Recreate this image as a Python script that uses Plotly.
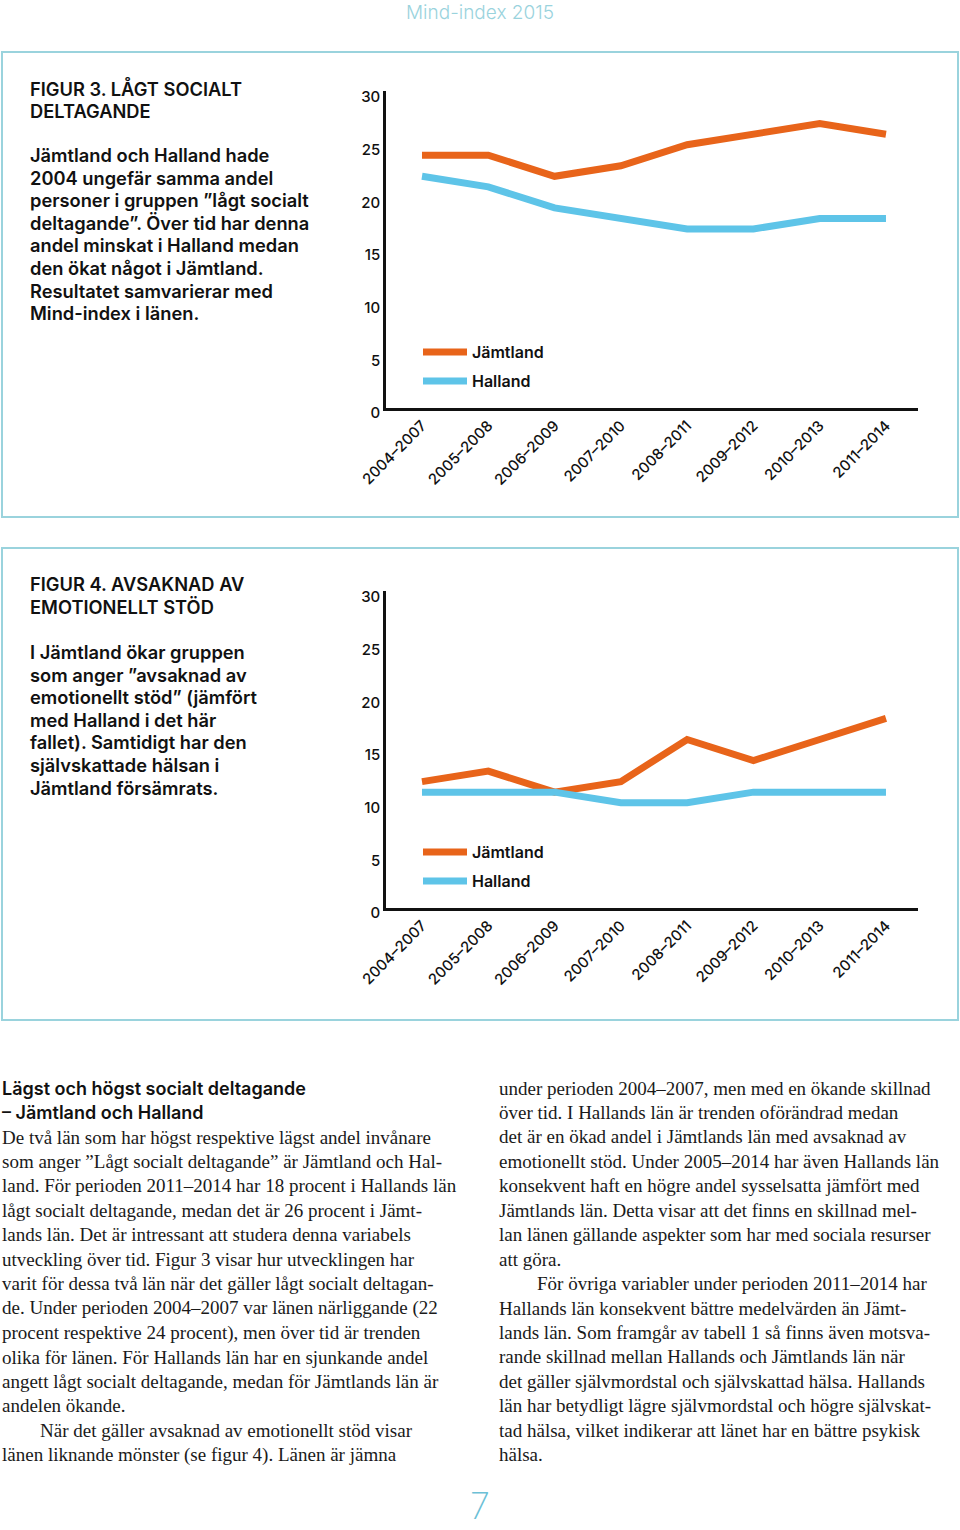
import plotly.graph_objects as go

W, H = 960, 1530

# ---------------- data ----------------
periods = ["2004–2007", "2005–2008", "2006–2009", "2007–2010",
           "2008–2011", "2009–2012", "2010–2013", "2011–2014"]
fig3_jamtland = [24, 24, 22, 23, 25, 26, 27, 26]
fig3_halland = [22, 21, 19, 18, 17, 17, 18, 18]
fig4_jamtland = [12, 13, 11, 12, 16, 14, 16, 18]
fig4_halland = [11, 11, 11, 10, 10, 11, 11, 11]
y_ticks = [0, 5, 10, 15, 20, 25, 30]

ORANGE = "#E8641A"
BLUE = "#5EC4E8"
TEAL = "#9AD3DD"
SANS = "Inter"
SERIF = "Liberation Serif"


def px(x):
    return x / W


def py(y):
    return 1 - y / H


fig = go.Figure()

# ---------------- chart traces ----------------
for i, (jam, hal) in enumerate([(fig3_jamtland, fig3_halland),
                                 (fig4_jamtland, fig4_halland)]):
    xa = "x" if i == 0 else "x2"
    ya = "y" if i == 0 else "y2"
    lj = "legend" if i == 0 else "legend3"
    lh = "legend2" if i == 0 else "legend4"
    fig.add_trace(go.Scatter(x=periods, y=jam, mode="lines", name="Jämtland",
                             line=dict(color=ORANGE, width=7), xaxis=xa, yaxis=ya,
                             legend=lj, hoverinfo="skip"))
    fig.add_trace(go.Scatter(x=periods, y=hal, mode="lines", name="Halland",
                             line=dict(color=BLUE, width=7), xaxis=xa, yaxis=ya,
                             legend=lh, hoverinfo="skip"))

axis_font = dict(family=SANS, size=15, color="#111111", weight=500)
xcommon = dict(domain=[px(386), px(918)], range=[-0.543, 7.483],
               showgrid=False, zeroline=False, showline=True,
               linecolor="#111111", linewidth=3, ticks="",
               tickangle=-45, tickfont=axis_font, fixedrange=True)
ycommon = dict(range=[0, 30.1], tickvals=y_ticks, showgrid=False,
               zeroline=False, showline=True, linecolor="#111111",
               linewidth=2.5, ticks="", tickfont=axis_font,
               ticklabelstandoff=0, ticklabelshift=5, fixedrange=True)

fig.update_layout(
    xaxis=dict(xcommon, anchor="y"),
    yaxis=dict(ycommon, domain=[py(408), py(91)], anchor="x"),
    xaxis2=dict(xcommon, anchor="y2"),
    yaxis2=dict(ycommon, domain=[py(908), py(591)], anchor="x2"),
)

leg_common = dict(bgcolor="rgba(0,0,0,0)", borderwidth=0, xanchor="left",
                  yanchor="middle", itemwidth=44, itemclick=False,
                  itemdoubleclick=False,
                  font=dict(family=SANS, size=16, color="#111111", weight=600))
fig.update_layout(
    legend=dict(leg_common, x=px(418), y=py(352)),
    legend2=dict(leg_common, x=px(418), y=py(381)),
    legend3=dict(leg_common, x=px(418), y=py(852)),
    legend4=dict(leg_common, x=px(418), y=py(881)),
)

# ---------------- frames ----------------
shapes = []
for (y0, y1) in [(52, 517), (548, 1020)]:
    shapes.append(dict(type="rect", xref="paper", yref="paper",
                       x0=px(2), x1=px(958), y0=py(y0), y1=py(y1),
                       line=dict(color=TEAL, width=2), fillcolor="rgba(0,0,0,0)",
                       layer="below"))

annotations = []


def text(x, y, s, size, family=SANS, color="#111111", weight=600, anchor="left"):
    annotations.append(dict(x=px(x), y=py(y), xref="paper", yref="paper",
                            text=s, showarrow=False, xanchor=anchor,
                            yanchor="middle", borderpad=0,
                            font=dict(family=family, size=size, color=color,
                                      weight=weight)))


# header and page number
text(480, 13, "Mind-index 2015", 19, color=TEAL, weight=300, anchor="center")
text(480, 1506, "7", 36, color="#6CC0D6", weight=200, anchor="center")

# figure 3 side text
fig3_title = ["FIGUR 3. LÅGT SOCIALT", "DELTAGANDE"]
fig3_body = ["Jämtland och Halland hade", "2004 ungefär samma andel",
             "personer i gruppen ”lågt socialt", "deltagande”. Över tid har denna",
             "andel minskat i Halland medan", "den ökat något i Jämtland.",
             "Resultatet samvarierar med", "Mind-index i länen."]
for k, s in enumerate(fig3_title):
    text(29, 88 + k * 22.6, s, 18.3)
for k, s in enumerate(fig3_body):
    text(29, 155 + k * 22.6, s, 18.3)

fig4_title = ["FIGUR 4. AVSAKNAD AV", "EMOTIONELLT STÖD"]
fig4_body = ["I Jämtland ökar gruppen", "som anger ”avsaknad av",
             "emotionellt stöd” (jämfört", "med Halland i det här",
             "fallet). Samtidigt har den", "självskattade hälsan i",
             "Jämtland försämrats."]
for k, s in enumerate(fig4_title):
    text(29, 584 + k * 22.6, s, 18.3)
for k, s in enumerate(fig4_body):
    text(29, 652 + k * 22.6, s, 18.3)

# bottom article
text(1, 1088, "Lägst och högst socialt deltagande", 18)
text(1, 1112, "– Jämtland och Halland", 18)

left_col = [
    "De två län som har högst respektive lägst andel invånare",
    "som anger ”Lågt socialt deltagande” är Jämtland och Hal-",
    "land. För perioden 2011–2014 har 18 procent i Hallands län",
    "lågt socialt deltagande, medan det är 26 procent i Jämt-",
    "lands län. Det är intressant att studera denna variabels",
    "utveckling över tid. Figur 3 visar hur utvecklingen har",
    "varit för dessa två län när det gäller lågt socialt deltagan-",
    "de. Under perioden 2004–2007 var länen närliggande (22",
    "procent respektive 24 procent), men över tid är trenden",
    "olika för länen. För Hallands län har en sjunkande andel",
    "angett lågt socialt deltagande, medan för Jämtlands län är",
    "andelen ökande.",
    "\u2003\u2003När det gäller avsaknad av emotionellt stöd visar",
    "länen liknande mönster (se figur 4). Länen är jämna",
]
right_col = [
    "under perioden 2004–2007, men med en ökande skillnad",
    "över tid. I Hallands län är trenden oförändrad medan",
    "det är en ökad andel i Jämtlands län med avsaknad av",
    "emotionellt stöd. Under 2005–2014 har även Hallands län",
    "konsekvent haft en högre andel sysselsatta jämfört med",
    "Jämtlands län. Detta visar att det finns en skillnad mel-",
    "lan länen gällande aspekter som har med sociala resurser",
    "att göra.",
    "\u2003\u2003För övriga variabler under perioden 2011–2014 har",
    "Hallands län konsekvent bättre medelvärden än Jämt-",
    "lands län. Som framgår av tabell 1 så finns även motsva-",
    "rande skillnad mellan Hallands och Jämtlands län när",
    "det gäller självmordstal och självskattad hälsa. Hallands",
    "län har betydligt lägre självmordstal och högre självskat-",
    "tad hälsa, vilket indikerar att länet har en bättre psykisk",
    "hälsa.",
]
LS = 24.45
for k, s in enumerate(left_col):
    text(1, 1137 + k * LS, s, 19, family=SERIF, color="#1a1a1a", weight=400)
for k, s in enumerate(right_col):
    text(498, 1088 + k * LS, s, 19, family=SERIF, color="#1a1a1a", weight=400)

fig.update_layout(
    width=W, height=H,
    margin=dict(l=0, r=0, t=0, b=0, pad=0, autoexpand=False),
    paper_bgcolor="white", plot_bgcolor="white",
    shapes=shapes, annotations=annotations, showlegend=True,
)

fig.write_html("out.html")
